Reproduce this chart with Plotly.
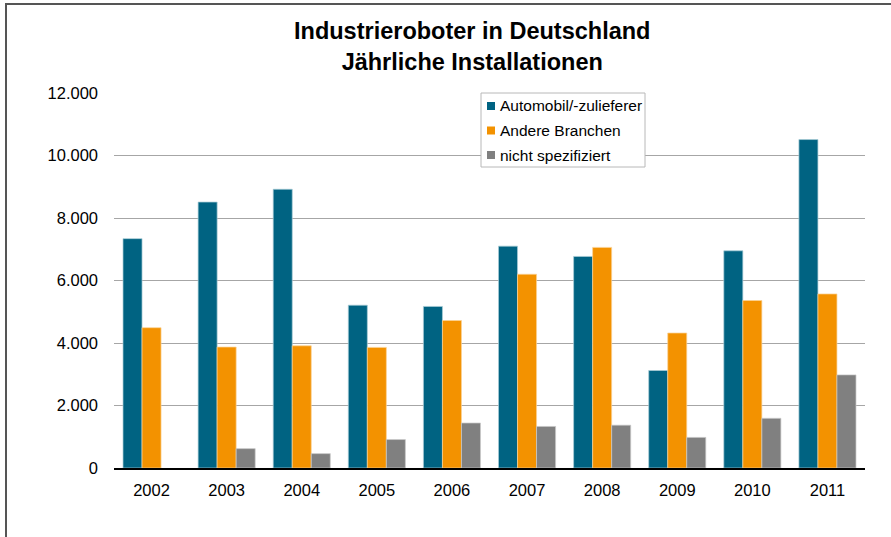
import plotly.graph_objects as go

years = ["2002", "2003", "2004", "2005", "2006", "2007", "2008", "2009", "2010", "2011"]
automobil = [7340, 8510, 8920, 5210, 5170, 7100, 6770, 3120, 6950, 10510]
andere = [4490, 3870, 3910, 3860, 4720, 6200, 7060, 4320, 5360, 5570]
nicht_spez = [None, 620, 460, 910, 1440, 1330, 1370, 980, 1590, 2980]

series_names = ["Automobil/-zulieferer", "Andere Branchen", "nicht spezifiziert"]
colors = ["#006382", "#F39200", "#808080"]
edge_colors = ["rgba(170,205,215,0.9)", "rgba(250,210,150,0.9)", "rgba(200,200,200,0.9)"]
title_text = "<b>Industrieroboter in Deutschland<br>Jährliche Installationen</b>"

W, H = 891, 537
ml, mr, mt, mb = 114, 26, 93, 69
pw, ph = W - ml - mr, H - mt - mb


def px_x(x):
    return (x - ml) / pw


def px_y(y):
    return ((H - mb) - y) / ph


fig = go.Figure()
for name, vals, c, ec in zip(series_names, [automobil, andere, nicht_spez], colors, edge_colors):
    fig.add_trace(go.Bar(
        x=years, y=vals, name=name, showlegend=False,
        marker=dict(color=c, line=dict(color=ec, width=0.8)),
    ))

shapes = [dict(
    type="rect", xref="paper", yref="paper",
    x0=px_x(6), x1=px_x(905), y0=px_y(560), y1=px_y(4),
    line=dict(color="#555555", width=2), fillcolor="rgba(0,0,0,0)", layer="below",
)]
# legend box
shapes.append(dict(
    type="rect", xref="paper", yref="paper",
    x0=px_x(481), x1=px_x(645), y0=px_y(167), y1=px_y(93),
    line=dict(color="#b8b8b8", width=1), fillcolor="white", layer="above",
))
annotations = [dict(
    text=title_text, xref="paper", yref="paper", x=px_x(472), y=px_y(47),
    xanchor="center", yanchor="middle", showarrow=False,
    font=dict(size=23.5, color="#000000"),
)]
row_centers = [106, 130.5, 155]
for name, c, yc in zip(series_names, colors, row_centers):
    shapes.append(dict(
        type="rect", xref="paper", yref="paper",
        x0=px_x(487), x1=px_x(495), y0=px_y(yc + 4), y1=px_y(yc - 4),
        line=dict(width=0), fillcolor=c, layer="above",
    ))
    annotations.append(dict(
        text=name, xref="paper", yref="paper", x=px_x(498), y=px_y(yc),
        xanchor="left", yanchor="middle", showarrow=False,
        font=dict(size=15.5, color="#000000"),
    ))

fig.update_layout(
    width=W, height=H,
    margin=dict(l=ml, r=mr, t=mt, b=mb, autoexpand=False),
    paper_bgcolor="white", plot_bgcolor="white",
    font=dict(family="Liberation Sans, Arial, sans-serif", size=16.5, color="#000000"),
    separators=",.",
    barmode="group", bargap=0.24, bargroupgap=0,
    showlegend=False,
    xaxis=dict(
        showline=True, linecolor="#000000", linewidth=2,
        ticks="", showgrid=False, tickfont=dict(size=16.5),
        ticklabelstandoff=6,
    ),
    yaxis=dict(
        range=[0, 12000], tickvals=[0, 2000, 4000, 6000, 8000, 10000, 12000],
        tickformat=",d", showgrid=True, gridcolor="#a6a6a6", gridwidth=1,
        showline=False, zeroline=False, ticks="", tickfont=dict(size=16.5),
        ticklabelstandoff=15,
    ),
    shapes=shapes,
    annotations=annotations,
)

fig.write_html("out.html", config={"displayModeBar": False},
               post_script="document.body.style.margin='0';")
